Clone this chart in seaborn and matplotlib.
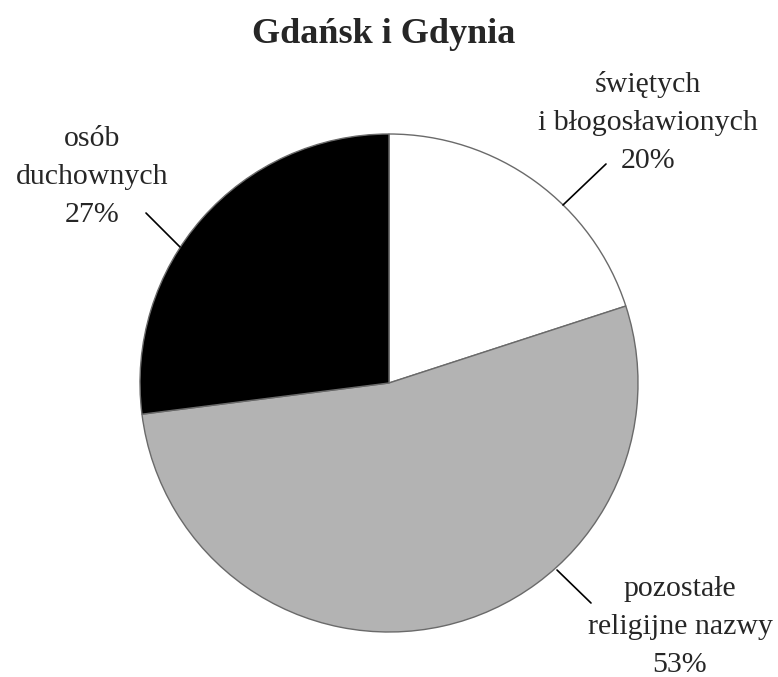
import matplotlib
matplotlib.use("Agg")
import matplotlib.pyplot as plt
import seaborn as sns
import numpy as np

sns.set_style("white")
plt.rcParams['font.family'] = ['Liberation Serif', 'DejaVu Serif']

categories = ["świętych\ni błogosławionych", "pozostałe\nreligijne nazwy", "osób\nduchownych"]
values = [20, 53, 27]
colors = ["#ffffff", "#b3b3b3", "#000000"]
title = "Gdańsk i Gdynia"

W, H = 778, 677
fig = plt.figure(figsize=(W/100, H/100), dpi=100)
cx, cy, r = 389, 383, 249
ax = fig.add_axes([(cx-r)/W, (H-cy-r)/H, 2*r/W, 2*r/H])

wedges, _ = ax.pie(values, colors=colors, startangle=90, counterclock=False,
                   wedgeprops=dict(edgecolor="#6a6a6a", linewidth=1.0), radius=1.0)
ax.set_xlim(-1, 1); ax.set_ylim(-1, 1)
ax.set_aspect("equal")
ax.axis("off")

def px(x, y):
    return (x - cx) / r, (cy - y) / r

# label anchor (last-line baseline, pixel coords) and leader lines (pixel coords)
label_anchor = [(648, 168), (680, 672), (92.5, 222)]
leader_px = [((563, 205), (606, 164)), ((557, 570), (591, 603)), ((180, 247), (146, 213))]
for lab, v, (tx, ty), (p0, p1) in zip(categories, values, label_anchor, leader_px):
    x0, y0 = px(*p0); x1, y1 = px(*p1)
    ax.plot([x0, x1], [y0, y1], color="black", lw=1.2, clip_on=False)
    lx, ly = px(tx, ty)
    ax.text(lx, ly, f"{lab}\n{v}%", ha="center", va="baseline", fontsize=21.5,
            linespacing=1.6, multialignment="center", clip_on=False)

fig.text(383.5 / W, 1 - 43 / H, title, ha="center", va="baseline", fontsize=26, fontweight="bold")
fig.savefig("out.png", dpi=100, facecolor="white")
